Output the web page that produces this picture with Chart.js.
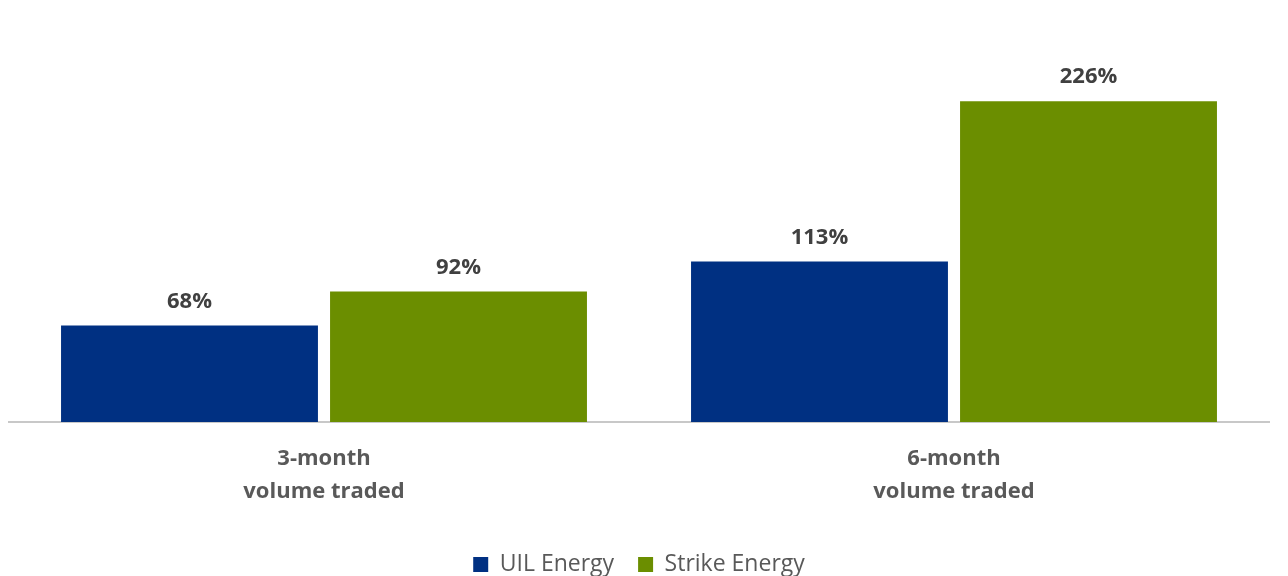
<!DOCTYPE html>
<html>
<head>
<meta charset="utf-8">
<script src="https://cdn.jsdelivr.net/npm/chart.js@4.4.1/dist/chart.umd.min.js"></script>
<style>
  html, body { margin: 0; padding: 0; background: #ffffff; }
  #wrap { width: 1288px; height: 576px; position: relative; }
</style>
</head>
<body>
<div id="wrap"><canvas id="grafico"></canvas></div>
<script>
const categorias = [['3-month', 'volume traded'], ['6-month', 'volume traded']];
const nomesSeries = ['UIL Energy', 'Strike Energy'];
const valoresUIL = [68, 113];
const valoresStrike = [92, 226];
const coresSeries = ['#003082', '#6b8e00'];

// rótulos de valor acima das barras
const rotulosPlugin = {
    id: 'rotulos',
    afterDatasetsDraw(chart) {
        const ctx = chart.ctx;
        ctx.save();
        ctx.font = 'bold 22px "Open Sans"';
        ctx.fillStyle = '#404040';
        ctx.textAlign = 'center';
        ctx.textBaseline = 'bottom';
        chart.data.datasets.forEach((ds, i) => {
            chart.getDatasetMeta(i).data.forEach((bar, j) => {
                ctx.fillText(ds.data[j] + '%', bar.x, bar.y - 13);
            });
        });
        ctx.restore();
    }
};

new Chart(document.getElementById('grafico'), {
    type: 'bar',
    data: {
        labels: categorias,
        datasets: [
            { label: nomesSeries[0], data: valoresUIL, backgroundColor: coresSeries[0] },
            { label: nomesSeries[1], data: valoresStrike, backgroundColor: coresSeries[1] }
        ]
    },
    options: {
        responsive: true,
        maintainAspectRatio: false,
        animation: false,
        categoryPercentage: 0.854,
        barPercentage: 0.955,
        layout: { padding: { top: 25, left: 9, right: 19, bottom: -10 } },
        scales: {
            y: { display: false, min: 0, max: 279.7 },
            x: {
                grid: { display: false },
                border: { display: true, color: '#c8c8c8', width: 2 },
                ticks: {
                    color: '#595959',
                    font: { family: 'Open Sans', size: 22, weight: 'bold', lineHeight: 1.5 },
                    padding: 12
                },
                afterFit: (eixo) => { eixo.height += 9; } // espaço extra até a legenda
            }
        },
        plugins: {
            legend: {
                position: 'bottom',
                labels: {
                    color: '#595959',
                    font: { family: 'Open Sans', size: 23 },
                    boxWidth: 15,
                    boxHeight: 15,
                    padding: 24
                }
            },
            tooltip: { enabled: false }
        }
    },
    plugins: [rotulosPlugin]
});
</script>
</body>
</html>
